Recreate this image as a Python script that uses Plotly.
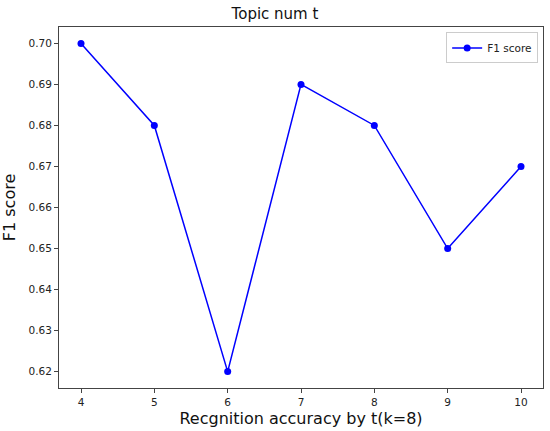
import plotly.graph_objects as go

topic_num = [4, 5, 6, 7, 8, 9, 10]
f1_score = [0.70, 0.68, 0.62, 0.69, 0.68, 0.65, 0.67]
y_ticks = [0.62, 0.63, 0.64, 0.65, 0.66, 0.67, 0.68, 0.69, 0.70]

fig = go.Figure()
fig.add_trace(go.Scatter(
    x=topic_num, y=f1_score, mode="lines+markers", name="F1 score",
    line=dict(color="#0000ff", width=1.5),
    marker=dict(color="#0000ff", size=7),
))

axis_common = dict(
    showline=True, linecolor="#444444", linewidth=1, mirror=True,
    ticks="outside", ticklen=4, tickcolor="#444444", tickwidth=1,
    showgrid=False, zeroline=False,
    tickfont=dict(family="DejaVu Sans", size=10.5, color="#222222"),
)

fig.update_layout(
    width=550, height=431,
    margin=dict(l=59, r=7, t=27, b=43),
    paper_bgcolor="white", plot_bgcolor="white",
    title=dict(text="Topic num t", x=0.5, xanchor="center", y=0.967, yanchor="middle",
               font=dict(family="DejaVu Sans", size=15, color="#111111")),
    xaxis=dict(range=[3.7, 10.3], tickvals=topic_num,
               title=dict(text="Recgnition accuracy by t(k=8)", standoff=6,
                          font=dict(family="DejaVu Sans", size=16, color="#111111")),
               **axis_common),
    yaxis=dict(range=[0.616, 0.704], tickvals=y_ticks, tickformat=".2f",
               title=dict(text="F1 score", standoff=10,
                          font=dict(family="DejaVu Sans", size=16, color="#111111")),
               **axis_common),
    showlegend=True,
    legend=dict(x=0.99, y=0.985, xanchor="right", yanchor="top",
                bgcolor="rgba(255,255,255,0.8)", bordercolor="#cccccc", borderwidth=1,
                font=dict(family="DejaVu Sans", size=10.5, color="#222222")),
)

fig.write_html("out.html", config={"displayModeBar": False},
               post_script="document.body.style.margin='0px';")
